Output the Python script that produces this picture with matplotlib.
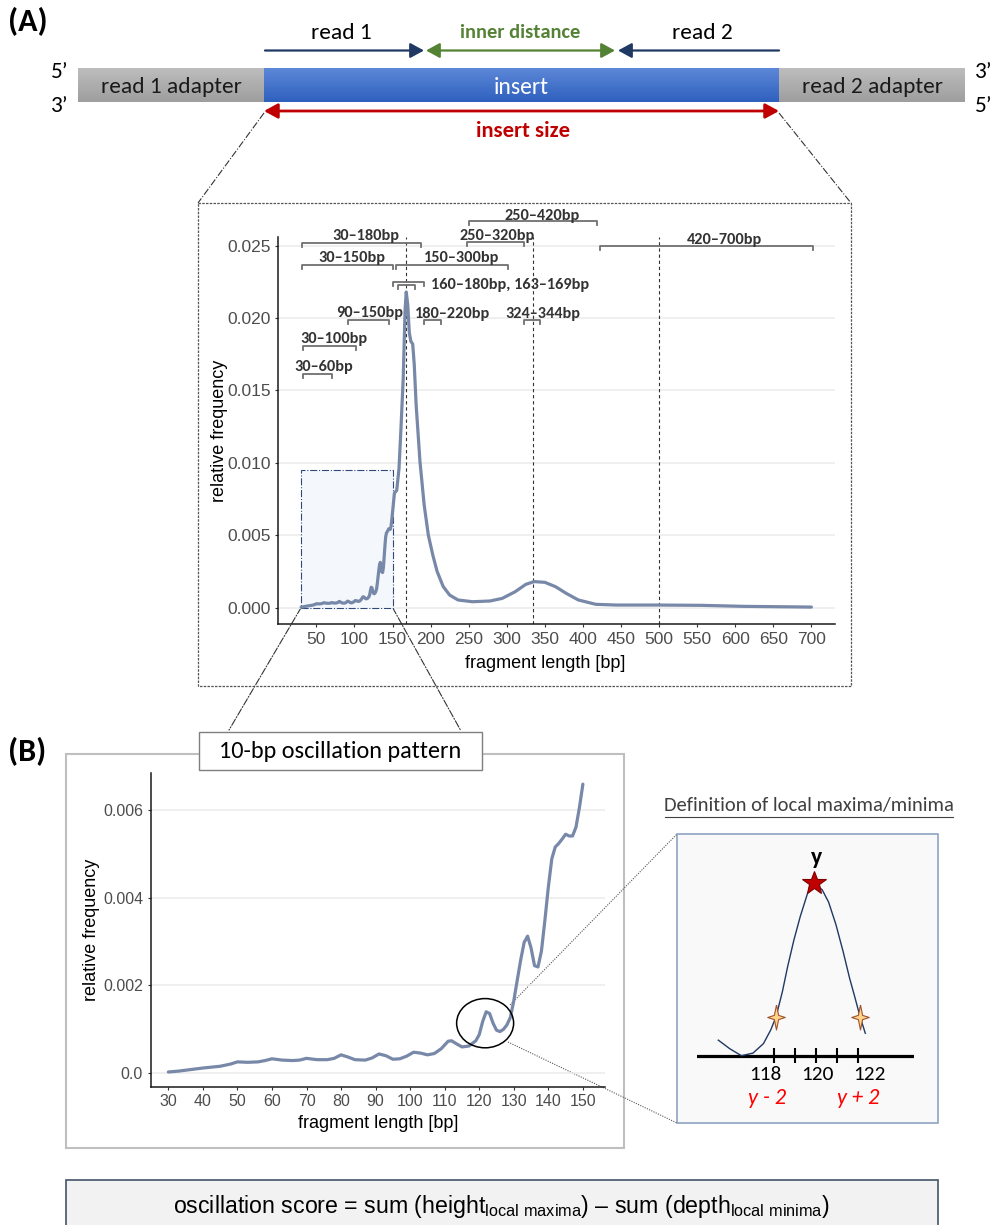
import numpy as np
import matplotlib
matplotlib.use('Agg')
import matplotlib.pyplot as plt
from matplotlib import font_manager
from matplotlib.patches import Rectangle, Ellipse, ConnectionPatch
from matplotlib.colors import LinearSegmentedColormap
from matplotlib.path import Path

# fonts: Calibri-like body text, Arial-like axes
names = {f.name for f in font_manager.fontManager.ttflist}
BODY = 'Carlito' if 'Carlito' in names else 'Lato'
plt.rcParams['font.family'] = ['Liberation Sans', 'DejaVu Sans']
plt.rcParams['mathtext.fontset'] = 'custom'
plt.rcParams['mathtext.rm'] = 'Liberation Sans'

# ---------------- data ----------------
# 10-bp oscillation region (fragment length [bp], relative frequency x1e-3)
osc_len = [30, 33, 36, 40, 45, 48, 50, 53, 56, 58, 60, 63, 66, 68, 70, 73, 76, 78,
           80, 82, 84, 87, 89, 91, 93, 95, 97, 99, 101, 103, 105, 107, 109, 111,
           112, 113, 115, 117, 119, 120, 121, 122, 123, 124, 125, 126, 127, 128,
           129, 130, 131, 132, 133, 134, 135, 136, 137, 138, 139, 140, 141, 142,
           143, 144, 145, 146, 147, 148, 149, 150]
osc_freq = [0.03, 0.05, 0.08, 0.12, 0.16, 0.21, 0.26, 0.25, 0.26, 0.29, 0.33, 0.30,
            0.29, 0.30, 0.34, 0.31, 0.31, 0.34, 0.42, 0.37, 0.31, 0.30, 0.35, 0.44,
            0.40, 0.32, 0.33, 0.39, 0.48, 0.46, 0.42, 0.45, 0.56, 0.73, 0.74, 0.69,
            0.60, 0.62, 0.74, 0.88, 1.18, 1.40, 1.36, 1.14, 0.98, 0.95, 1.00, 1.10,
            1.27, 1.65, 2.12, 2.58, 2.98, 3.12, 2.85, 2.45, 2.42, 2.78, 3.48, 4.24,
            4.88, 5.15, 5.23, 5.33, 5.44, 5.40, 5.40, 5.60, 6.05, 6.58]

# rest of the fragment length distribution (>150 bp)
tail_len = [152.5, 155.5, 158.5, 161, 164, 166.5, 168, 170, 172, 174, 176.5, 178.5,
            181, 186, 191.5, 197, 203, 208.5, 216.5, 225, 236, 255, 278, 294, 311,
            325, 336, 350, 364, 378, 394, 417, 444, 500, 556, 611, 700]
tail_freq = [7.9, 8.1, 9.6, 12.3, 15.8, 20.6, 21.8, 20.9, 19.0, 18.4, 18.2, 16.8,
             14.0, 10.1, 7.1, 5.0, 3.6, 2.5, 1.45, 0.86, 0.52, 0.40, 0.45, 0.63,
             1.09, 1.60, 1.79, 1.74, 1.44, 0.98, 0.52, 0.22, 0.17, 0.17, 0.15, 0.08,
             0.03]

peak_marks = [168, 334, 500]

# size-range brackets: (label, start, end, bracket level x1e-3)
range_labels = ['250–420bp', '30–180bp', '250–320bp', '420–700bp', '30–150bp',
                '150–300bp', '', '160–180bp, 163–169bp', '90–150bp', '180–220bp',
                '324–344bp', '30–100bp', '30–60bp']
range_lo = [250, 31, 248, 423, 31, 155, 150.5, 157, 92, 191, 322, 32, 32]
range_hi = [418, 187, 322, 702, 151, 302, 191, 180, 145, 213, 344, 102, 71]
range_lvl = [26.68, 25.2, 25.25, 24.95, 23.64, 23.64, 22.46, 22.30, 19.86, 19.88,
             19.86, 18.10, 16.15]
label_x = [347, 115.6, 287.9, 585.8, 97.2, 240.7, None, 200.9, 119.6, 228.9, 347.9,
           72.7, 59.6]
label_y = [27.14, 25.76, 25.76, 25.53, 24.22, 24.22, None, 22.42, 20.46, 20.39,
           20.39, 18.69, 16.70]

# schematic peak for the local maxima definition (bp, relative height)
sch_pos = [115.35, 115.9, 116.45, 117.0, 117.5, 117.85, 118.1, 118.4, 118.65, 118.95,
           119.25, 119.6, 119.92, 120.3, 120.6, 120.95, 121.3, 121.6, 121.85, 122.1,
           122.35]
sch_height = [0.09, 0.04, 0.0, 0.015, 0.07, 0.15, 0.226, 0.37, 0.515, 0.67, 0.805,
              0.94, 1.0, 0.96, 0.89, 0.76, 0.6, 0.45, 0.34, 0.226, 0.13]
sch_ticks = [118, 119, 120, 121, 122]
sch_neighbours = [118.1, 122.1]

LINE = '#7888A8'
NAVY = '#1F3864'
GREEN = '#548235'
RED = '#C00000'

W, H = 992, 1225


def px_rect(x0, y0, x1, y1):
    return [x0 / W, 1 - y1 / H, (x1 - x0) / W, (y1 - y0) / H]


fig = plt.figure(figsize=(W / 100, H / 100), dpi=100)
ov = fig.add_axes([0, 0, 1, 1], zorder=0)
ov.set_xlim(0, W)
ov.set_ylim(H, 0)
ov.axis('off')

# ---------------- (A) read schematic ----------------
ov.text(8, 22, '(A)', fontsize=23, fontweight='bold', family=BODY, va='center')


def grad_box(x0, x1, y0, y1, top, bottom):
    cmap = LinearSegmentedColormap.from_list('g', [top, bottom])
    ov.imshow(np.linspace(0, 1, 64).reshape(-1, 1), cmap=cmap, aspect='auto',
              extent=(x0, x1, y1, y0), zorder=1, interpolation='bilinear')


grad_box(78, 264, 69, 102.5, '#BDBDBD', '#9E9E9E')
grad_box(264, 779, 69, 102.5, '#5D88D8', '#2E60BE')
grad_box(779, 965, 69, 102.5, '#BDBDBD', '#9E9E9E')
ov.set_xlim(0, W)
ov.set_ylim(H, 0)
ov.set_aspect('auto')

ov.text(171, 87, 'read 1 adapter', fontsize=16.8, family=BODY, ha='center', va='center', color='#1a1a1a', zorder=2)
ov.text(521, 87, 'insert', fontsize=17, family=BODY, ha='center', va='center', color='white', zorder=2)
ov.text(872, 87, 'read 2 adapter', fontsize=16.8, family=BODY, ha='center', va='center', color='#1a1a1a', zorder=2)
for x, y, s in [(60, 72, '5’'), (60, 106, '3’'), (984, 72, '3’'), (984, 106, '5’')]:
    ov.text(x, y, s, fontsize=16.8, family=BODY, ha='center', va='center')


def arrow(x0, x1, y, color, style, lw):
    ov.annotate('', xy=(x1, y), xytext=(x0, y),
                arrowprops=dict(arrowstyle=style + ',head_length=0.55,head_width=0.3',
                                color=color, lw=lw, shrinkA=0, shrinkB=0,
                                mutation_scale=15), zorder=3)


arrow(265, 424, 50.5, NAVY, '-|>', 1.6)
arrow(426, 615, 50.5, GREEN, '<|-|>', 1.6)
arrow(779, 618, 50.5, NAVY, '-|>', 1.6)
arrow(264, 779, 111, RED, '<|-|>', 2.0)
ov.text(341, 33, 'read 1', fontsize=16.8, family=BODY, ha='center', va='center')
ov.text(520, 33, 'inner distance', fontsize=14.8, family=BODY, fontweight='bold',
        ha='center', va='center', color=GREEN)
ov.text(702, 33, 'read 2', fontsize=16.8, family=BODY, ha='center', va='center')
ov.text(523, 131, 'insert size', fontsize=16.3, family=BODY, fontweight='bold',
        ha='center', va='center', color=RED)

# zoom lines from insert to the distribution panel
ov.plot([264, 198], [113, 203], ls='-.', color='#333333', lw=0.8)
ov.plot([779, 851], [113, 203], ls='-.', color='#333333', lw=0.8)
ov.add_patch(Rectangle((198, 203), 653, 483, fill=False, ec='#555555',
                       ls=(0, (2, 1)), lw=0.9))

# ---------------- main distribution ----------------
frag_len = np.array(osc_len + tail_len)
frag_freq = np.array(osc_freq + tail_freq) * 1e-3

ax = fig.add_axes(px_rect(278.3, 237, 835, 624.3), zorder=2, facecolor='none')
ax.add_patch(Rectangle((30, 0), 120, 0.0095, fc='#F4F7FC', ec='#2F4A7A', ls='-.',
                       lw=0.8, zorder=1))
for x in peak_marks:
    ax.axvline(x, color='#333333', ls=(0, (3, 2.5)), lw=0.8, zorder=2)
ax.plot(frag_len, frag_freq, color=LINE, lw=2.3, solid_joinstyle='round',
        solid_capstyle='round', zorder=3)
ax.set_xlim(0, 731)
ax.set_ylim(-0.00116, 0.0256)
ax.set_xticks(np.arange(50, 701, 50))
ax.set_yticks(np.arange(0, 0.0251, 0.005))
ax.set_yticklabels(['%.3f' % v for v in np.arange(0, 0.0251, 0.005)])
ax.yaxis.grid(True, color='#EBEBEB', lw=1.1)
ax.set_axisbelow(True)
for s in ['top', 'right']:
    ax.spines[s].set_visible(False)
for s in ['left', 'bottom']:
    ax.spines[s].set_color('#1a1a1a')
    ax.spines[s].set_linewidth(1.1)
ax.tick_params(length=2.5, color='#333333', labelcolor='#4D4D4D', labelsize=12.5, pad=3)
ax.set_xlabel('fragment length [bp]', fontsize=13)
ax.set_ylabel('relative frequency', fontsize=13)
ax.xaxis.set_label_coords(0.48, -0.1)
ax.xaxis.label.set_va('center')
ax.yaxis.set_label_coords(-0.105, 0.5)
ax.yaxis.label.set_va('center')

tick_drop = 0.00028
for lo, hi, lv in zip(range_lo, range_hi, range_lvl):
    y = lv * 1e-3
    ax.plot([lo, lo, hi, hi], [y - tick_drop, y, y, y - tick_drop], color='#707070',
            lw=1.3, clip_on=False, zorder=4)
for lab, lx, ly in zip(range_labels, label_x, label_y):
    if not lab:
        continue
    ha = 'left' if ',' in lab else 'center'
    ax.text(lx, ly * 1e-3, lab, fontsize=11.7, family=BODY, fontweight='bold',
            color='#333333', ha=ha, va='center_baseline', clip_on=False, zorder=5)

# ---------------- (B) oscillation pattern ----------------
ov.text(8, 752, '(B)', fontsize=23, fontweight='bold', family=BODY, va='center')
ov.add_patch(Rectangle((65.5, 754), 558.5, 394, fill=False, ec='#BFBFBF', lw=1.5, zorder=1))
ov.add_patch(Rectangle((199, 732), 283, 38, fc='white', ec='#7F7F7F', lw=1, zorder=2))
ov.text(340.5, 751, '10-bp oscillation pattern', fontsize=17.5, family=BODY,
        ha='center', va='center', zorder=3)

bx = fig.add_axes(px_rect(150.7, 772.7, 605, 1086.7), zorder=2, facecolor='none')
bx.plot(osc_len, np.array(osc_freq) * 1e-3, color=LINE, lw=2.3,
        solid_joinstyle='round', solid_capstyle='round', zorder=3)
bx.set_xlim(24.9, 156.4)
bx.set_ylim(-0.000305, 0.00684)
bx.set_xticks(np.arange(30, 151, 10))
bx.set_yticks([0, 0.002, 0.004, 0.006])
bx.set_yticklabels(['0.0', '0.002', '0.004', '0.006'])
bx.yaxis.grid(True, color='#EBEBEB', lw=1.1)
bx.set_axisbelow(True)
for s in ['top', 'right']:
    bx.spines[s].set_visible(False)
for s in ['left', 'bottom']:
    bx.spines[s].set_color('#1a1a1a')
    bx.spines[s].set_linewidth(1.1)
bx.tick_params(length=2.5, color='#333333', labelcolor='#4D4D4D', labelsize=11.5, pad=3)
bx.set_xlabel('fragment length [bp]', fontsize=13)
bx.set_ylabel('relative frequency', fontsize=13)
bx.xaxis.set_label_coords(0.501, -0.1166)
bx.xaxis.label.set_va('center')
bx.yaxis.set_label_coords(-0.13, 0.5)
bx.yaxis.label.set_va('center')
bx.add_patch(Ellipse((121.7, 0.00114), 16.5, 0.00112, fill=False, ec='black', lw=1.1, zorder=4))

# zoom lines: highlighted region -> panel B
for (xa, xb) in [(30, (229, 730)), (150, (461, 731))]:
    fig.add_artist(ConnectionPatch(xyA=(xa, 0), coordsA=ax.transData, xyB=xb,
                                   coordsB=ov.transData, ls='-.', color='#333333',
                                   lw=0.8))

# ---------------- local maxima definition ----------------
ov.plot([510, 677], [1005, 834], ls=(0, (1, 1.2)), color='#555555', lw=0.8)
ov.plot([508, 677], [1042, 1123], ls=(0, (1, 1.2)), color='#555555', lw=0.8)
ov.add_patch(Rectangle((676.7, 834), 261.3, 288.7, fc='#F9F9F9', ec='#8FA3C4', lw=1.2, zorder=1))
ov.text(809, 806, 'Definition of local maxima/minima', fontsize=14.8, family=BODY,
        ha='center', va='center', color='#404040')
ov.plot([665, 953], [817, 817], color='#404040', lw=0.8)

sx = fig.add_axes(px_rect(696.7, 850, 914, 1100), zorder=3, facecolor='none')
sx.set_xlim(114.32, 124.67)
sx.set_ylim(-0.2565, 1.191)
sx.axis('off')
sx.axhline(0, color='black', lw=2.3)
sx.vlines(sch_ticks, -0.043, 0.043, color='black', lw=1.5)
sx.plot(sch_pos, sch_height, color=NAVY, lw=1.0)
top = int(np.argmax(sch_height))
sx.plot(sch_pos[top], sch_height[top], marker='*', ms=18, mfc=RED, mec='#7F0000', mew=0.8)
sparkle = Path([(0, 1), (0.17, 0.17), (0.7, 0), (0.17, -0.17), (0, -1), (-0.17, -0.17),
                (-0.7, 0), (-0.17, 0.17), (0, 1)])
sx.plot(sch_neighbours, [sch_height[sch_pos.index(p)] for p in sch_neighbours],
        ls='none', marker=sparkle, ms=18, mfc='#FFD38A', mec='#A0522D', mew=0.8)
for x, s in [(765.8, '118'), (817.3, '120'), (869.3, '122')]:
    ov.text(x, 1074, s, fontsize=15.3, family=BODY, ha='center', va='center')
ov.text(766.7, 1098, 'y - 2', fontsize=16, family=BODY, style='italic', color='#FF0000',
        ha='center', va='center')
ov.text(858.3, 1098, 'y + 2', fontsize=16, family=BODY, style='italic', color='#FF0000',
        ha='center', va='center')
ov.text(816.7, 858, 'y', fontsize=17, family=BODY, fontweight='bold', ha='center', va='center')

# ---------------- oscillation score ----------------
ov.add_patch(Rectangle((65.7, 1180), 872.3, 50, fc='#F2F2F2', ec='#44546A', lw=1.2, zorder=1))
ov.text(501, 1206, 'oscillation score = sum (height$_{\\mathrm{local\\ maxima}}$) – '
        'sum (depth$_{\\mathrm{local\\ minima}}$)', family=['Liberation Sans', 'DejaVu Sans'],
        fontsize=16.7, ha='center', va='center', zorder=2)

fig.savefig('out.png', dpi=100)
